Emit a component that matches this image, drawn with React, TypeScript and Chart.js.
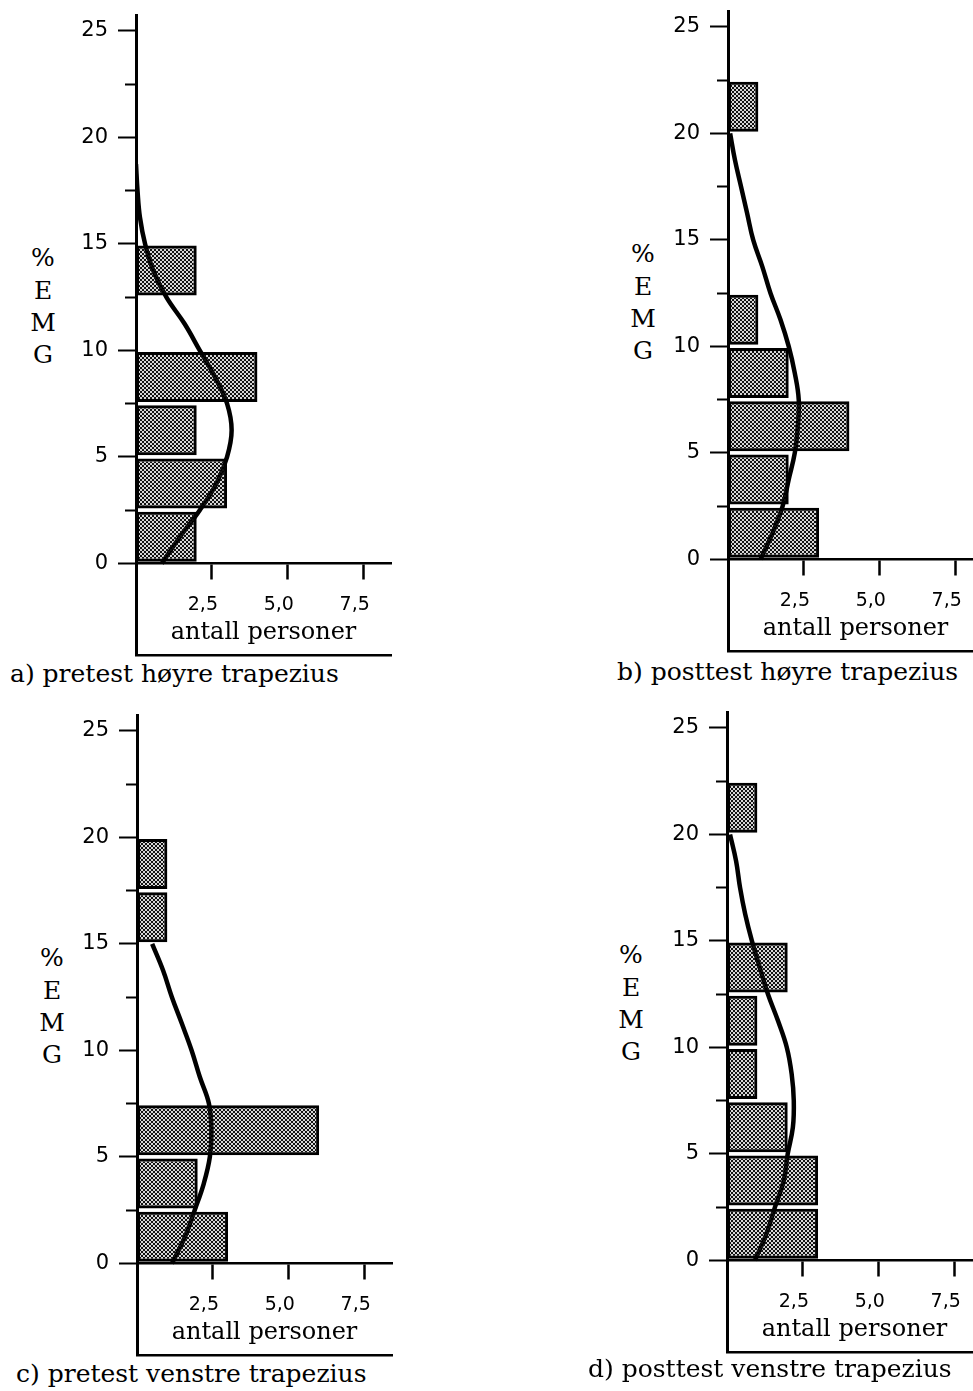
import React, { useEffect, useRef } from 'react';
import { Chart, registerables } from 'chart.js';

Chart.register(...registerables);

// ---------- data ----------
const BIN_STARTS = [0, 2.5, 5, 7.5, 10, 12.5, 15, 17.5, 20];
const BIN_WIDTH = 2.5;

const COUNTS_A = [2, 3, 2, 4, 0, 2, 0, 0, 0];
const COUNTS_B = [3, 2, 4, 2, 1, 0, 0, 0, 1];
const COUNTS_C = [3, 2, 6, 0, 0, 0, 1, 1, 0];
const COUNTS_D = [3, 3, 2, 1, 1, 2, 0, 0, 1];

const CURVE_Y = [0, 1.25, 2.5, 3.75, 5, 6.25, 7.5, 8.75, 10, 11.25, 12.5, 13.75, 15, 16.25, 17.5, 18.75, 20];
const CURVE_A = [0.85, 1.45, 2.1, 2.65, 3.0, 3.15, 3.0, 2.6, 2.1, 1.6, 1.0, 0.57, 0.3, 0.13, 0.05, 0.0];
const CURVE_B = [1.07, 1.47, 1.8, 2.0, 2.2, 2.3, 2.33, 2.2, 2.0, 1.73, 1.4, 1.13, 0.83, 0.63, 0.43, 0.23, 0.07];
const CURVE_C = [1.15, 1.58, 1.9, 2.2, 2.4, 2.45, 2.37, 2.07, 1.8, 1.48, 1.15, 0.86, 0.5];
const CURVE_D = [0.92, 1.3, 1.58, 1.87, 2.0, 2.17, 2.2, 2.13, 1.97, 1.68, 1.35, 1.08, 0.82, 0.6, 0.43, 0.3, 0.1];

const Y_TICKS = [0, 2.5, 5, 7.5, 10, 12.5, 15, 17.5, 20, 22.5, 25];
const Y_LABELED = [0, 5, 10, 15, 20, 25];
const X_TICKS = [2.5, 5, 7.5];
const X_TICK_LABELS = ['2,5', '5,0', '7,5'];
const Y_LETTERS = ['%', 'E', 'M', 'G'];
const X_TITLE = 'antall personer';
const CAPTION_A = 'a) pretest høyre trapezius';
const CAPTION_B = 'b) posttest høyre trapezius';
const CAPTION_C = 'c) pretest venstre trapezius';
const CAPTION_D = 'd) posttest venstre trapezius';

// ---------- layout ----------
const Y_MIN = -4.3;
const Y_MAX = 25.75;
const X_MAX = 8.4;
const Y_AXIS_W = 60;
const PAD_TOP = 4;
const PAD_RIGHT = 6;
const PAD_BOTTOM = 4;
const PLOT_H = 640;
const CANVAS_W = 321;
const CANVAS_H = PAD_TOP + PLOT_H + PAD_BOTTOM;
const Y0_IN_CANVAS = PAD_TOP + (Y_MAX * PLOT_H) / (Y_MAX - Y_MIN);
const TITLE_DY = 69;
const LETTER_DY = [-306, -273, -241, -209];

type Panel = {
  counts: number[];
  curve: number[];
  axisX: number;
  y0: number;
  letterDx: number;
  caption: string;
  capX: number;
  capBaseline: number;
};

const PANELS: Panel[] = [
  { counts: COUNTS_A, curve: CURVE_A, axisX: 136, y0: 563, letterDx: 93, caption: CAPTION_A, capX: 10, capBaseline: 682 },
  { counts: COUNTS_B, curve: CURVE_B, axisX: 728, y0: 559, letterDx: 85, caption: CAPTION_B, capX: 617, capBaseline: 680 },
  { counts: COUNTS_C, curve: CURVE_C, axisX: 137, y0: 1263, letterDx: 85, caption: CAPTION_C, capX: 16, capBaseline: 1382 },
  { counts: COUNTS_D, curve: CURVE_D, axisX: 727, y0: 1260, letterDx: 96, caption: CAPTION_D, capX: 588, capBaseline: 1377 },
];

function makePattern(ctx: CanvasRenderingContext2D): CanvasPattern | string {
  const c = document.createElement('canvas');
  c.width = 4;
  c.height = 4;
  const g = c.getContext('2d');
  if (!g) return '#7a7a7a';
  g.fillStyle = 'rgba(0,0,0,0.16)';
  g.fillRect(0, 0, 4, 4);
  g.clearRect(0, 0, 2, 2);
  g.clearRect(2, 2, 2, 2);
  g.fillStyle = '#111';
  g.fillRect(0, 0, 2, 2);
  g.fillRect(2, 2, 2, 2);
  return ctx.createPattern(c, 'repeat') || '#7a7a7a';
}

function HistPanel({ p }: { p: Panel }) {
  const ref = useRef<HTMLCanvasElement | null>(null);

  useEffect(() => {
    const canvas = ref.current;
    if (!canvas) return;
    const ctx = canvas.getContext('2d') as CanvasRenderingContext2D;
    const pattern = makePattern(ctx);

    const barData = BIN_STARTS.map((s, i) => ({ x: p.counts[i], y: s + BIN_WIDTH / 2 })).filter((d) => d.x > 0);
    const lineData = p.curve.map((x, i) => ({ x, y: CURVE_Y[i] }));
    const titleFontSize = 24;
    const titleLH = titleFontSize * 1.2;

    const chart = new Chart(canvas, {
      type: 'bar',
      data: {
        datasets: [
          {
            type: 'bar',
            data: barData as any,
            backgroundColor: pattern as any,
            borderColor: '#000',
            borderWidth: 3,
            borderSkipped: false,
            barPercentage: 0.94,
            categoryPercentage: 1,
            xAxisID: 'x',
            yAxisID: 'y',
            order: 1,
          } as any,
          {
            type: 'line',
            data: lineData as any,
            borderColor: '#000',
            borderWidth: 4.5,
            pointRadius: 0,
            tension: 0.4,
            fill: false,
            xAxisID: 'x',
            yAxisID: 'y',
            order: 2,
          } as any,
        ],
      },
      options: {
        indexAxis: 'y',
        responsive: false,
        animation: false,
        devicePixelRatio: 1,
        layout: { padding: { left: 0, right: PAD_RIGHT, top: PAD_TOP, bottom: PAD_BOTTOM } },
        plugins: { legend: { display: false }, tooltip: { enabled: false }, title: { display: false } },
        scales: {
          y: {
            type: 'linear',
            position: 'left',
            min: Y_MIN,
            max: Y_MAX,
            bounds: 'data',
            offset: false,
            afterBuildTicks: (s: any) => {
              s.ticks = Y_TICKS.map((v) => ({ value: v }));
            },
            afterFit: (s: any) => {
              s.width = Y_AXIS_W;
              s.paddingTop = 0;
              s.paddingBottom = 0;
              s.paddingLeft = 0;
              s.paddingRight = 0;
            },
            ticks: {
              autoSkip: false,
              padding: 10,
              color: '#000',
              font: { family: 'DejaVu Sans', size: 21 },
              callback: (v: any) => (Y_LABELED.includes(Number(v)) ? String(v) : ''),
            },
            grid: {
              offset: false,
              drawOnChartArea: false,
              tickLength: 18,
              tickWidth: 2,
              tickColor: '#000',
              tickBorderDash: (c: any) => (c.tick && Y_LABELED.includes(c.tick.value) ? [] : [0, 7, 100]),
            },
            border: { display: true, color: '#000', width: 3 },
          } as any,
          x: {
            type: 'linear',
            position: { y: 0 },
            min: 0,
            max: X_MAX,
            bounds: 'data',
            offset: false,
            afterBuildTicks: (s: any) => {
              s.ticks = X_TICKS.map((v) => ({ value: v }));
            },
            afterFit: (s: any) => {
              s.height = 0;
              s.paddingTop = 0;
              s.paddingBottom = 0;
              s.paddingLeft = 0;
              s.paddingRight = 0;
            },
            ticks: {
              autoSkip: false,
              padding: 15,
              labelOffset: -9,
              maxRotation: 0,
              color: '#000',
              font: { family: 'DejaVu Sans', size: 19 },
              callback: (_v: any, i: number) => X_TICK_LABELS[i],
            },
            grid: { offset: false, drawOnChartArea: false, tickLength: 15, tickWidth: 2.5, tickColor: '#000' },
            border: { display: true, color: '#000', width: 2.5 },
            title: {
              display: true,
              text: X_TITLE,
              color: '#000',
              font: { family: 'DejaVu Serif', size: titleFontSize },
              padding: { top: 0, bottom: -(TITLE_DY + titleLH / 2) },
            },
          } as any,
          xb: {
            type: 'linear',
            axis: 'x',
            position: 'bottom',
            min: 0,
            max: X_MAX,
            afterFit: (s: any) => {
              s.height = 0;
              s.paddingLeft = 0;
              s.paddingRight = 0;
            },
            ticks: { display: false },
            grid: { display: false },
            border: { display: true, color: '#000', width: 2.5 },
          } as any,
        },
      } as any,
    });
    return () => chart.destroy();
  }, [p]);

  const left = p.axisX - Y_AXIS_W;
  const top = Math.round(p.y0 - Y0_IN_CANVAS);

  return (
    <>
      <canvas
        ref={ref}
        width={CANVAS_W}
        height={CANVAS_H}
        style={{ position: 'absolute', left, top, width: CANVAS_W, height: CANVAS_H }}
      />
      {Y_LETTERS.map((ch, i) => (
        <div
          key={ch}
          style={{
            position: 'absolute',
            left: p.axisX - p.letterDx,
            top: p.y0 + LETTER_DY[i],
            transform: 'translate(-50%, -50%)',
            fontFamily: '"DejaVu Serif", serif',
            fontSize: 25,
            lineHeight: '25px',
            color: '#000',
            whiteSpace: 'nowrap',
          }}
        >
          {ch}
        </div>
      ))}
      <div
        style={{
          position: 'absolute',
          left: p.capX,
          top: p.capBaseline - 21,
          fontFamily: '"DejaVu Serif", serif',
          fontSize: 25,
          lineHeight: '25px',
          color: '#000',
          whiteSpace: 'nowrap',
        }}
      >
        {p.caption}
      </div>
    </>
  );
}

export default function App() {
  return (
    <div
      style={{
        position: 'absolute',
        left: 0,
        top: 0,
        width: 973,
        height: 1391,
        overflow: 'hidden',
        background: '#fff',
      }}
    >
      {PANELS.map((p, i) => (
        <HistPanel key={i} p={p} />
      ))}
    </div>
  );
}
